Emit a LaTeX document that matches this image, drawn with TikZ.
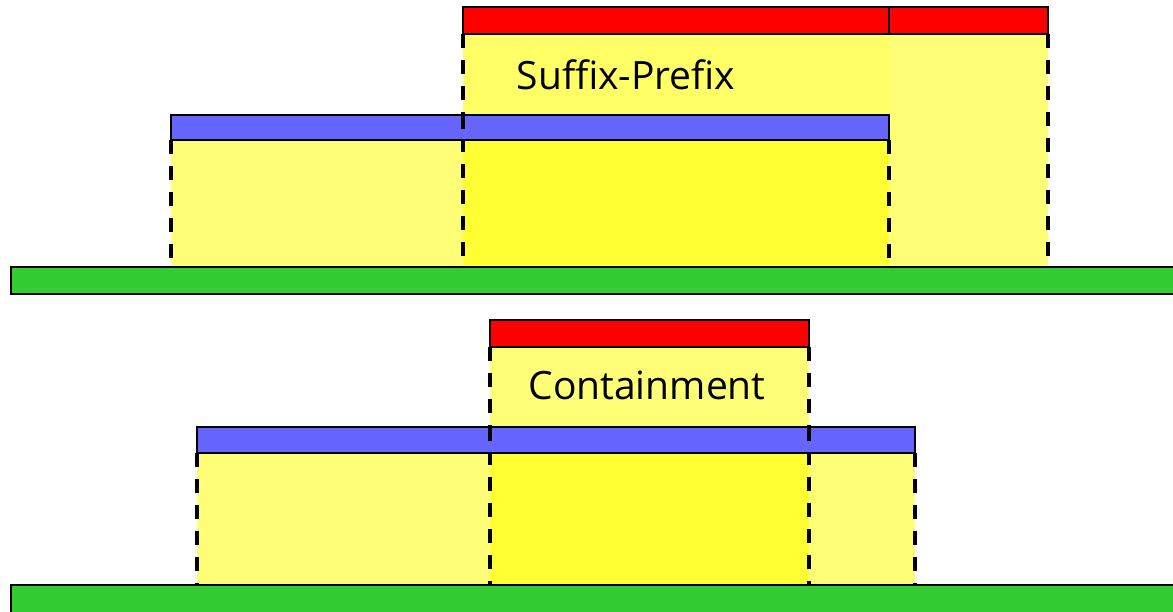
\documentclass[tikz,border=0pt]{standalone}
\usepackage{fontspec}
\setmainfont{Open Sans}
\definecolor{barred}{HTML}{FF0000}
\definecolor{barblue}{HTML}{6666FF}
\definecolor{bargreen}{HTML}{33CC33}
\definecolor{ylight}{HTML}{FFFF77}
\definecolor{ymid}{HTML}{FFFF66}
\definecolor{ybright}{HTML}{FFFF33}
\tikzset{
  bar/.style={draw=black, line width=2.2pt},
  guide/.style={draw=black, line width=3.8pt, dash pattern=on 14pt off 12pt},
  lbl/.style={font=\fontsize{39}{45}\selectfont, text=black, inner sep=0pt}
}
\begin{document}
\begin{tikzpicture}[x=1pt,y=-1pt]
\useasboundingbox (0,0) rectangle (1173,611);
% ---------- top panel ----------
\fill[ylight] (171,140) rectangle (463,267);
\fill[ybright] (463,140) rectangle (889,267);
\fill[ymid] (463,34) rectangle (889,115);
\fill[ylight] (889,34) rectangle (1048,267);
\draw[guide] (463,34) -- (463,267);
\draw[guide] (1048,34) -- (1048,267);
\draw[guide] (171,140) -- (171,267);
\draw[guide] (889,140) -- (889,267);
\draw[bar, fill=barblue] (171,115) rectangle (889,140);
\draw[guide] (463,115) -- (463,140);
\draw[bar, fill=barred] (463,7) rectangle (1048,34);
\draw[bar] (889,7) -- (889,34);
\draw[bar, fill=bargreen] (11,267) rectangle (1185,294);
\node[lbl] (sp) at (626,75) {Suffix-Prefix};
% ---------- bottom panel ----------
\fill[ylight] (490,347) rectangle (809,427);
\fill[ylight] (197,453) rectangle (490,585);
\fill[ybright] (490,453) rectangle (809,585);
\fill[ylight] (809,453) rectangle (915,585);
\draw[guide] (490,347) -- (490,585);
\draw[guide] (809,347) -- (809,585);
\draw[guide] (197,453) -- (197,585);
\draw[guide] (915,453) -- (915,585);
\draw[bar, fill=barblue] (197,427) rectangle (915,453);
\draw[guide] (490,427) -- (490,453);
\draw[guide] (809,427) -- (809,453);
\draw[bar, fill=barred] (490,320) rectangle (809,347);
\draw[bar, fill=bargreen] (11,585) rectangle (1185,620);
\node[lbl] (ct) at (647,385) {Containment};
\end{tikzpicture}
\end{document}
